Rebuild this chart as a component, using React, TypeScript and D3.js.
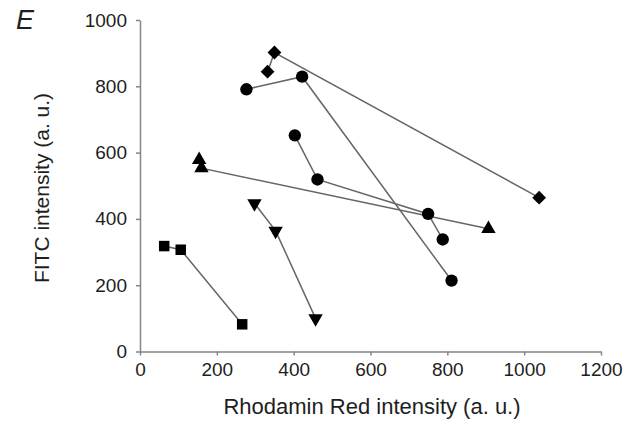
import React, { Component } from "react";
import * as d3 from "d3";

// [Rhodamin Red, FITC] pairs
const diamonds = [[332, 844], [350, 902], [1039, 464]];
const circlesA = [[277, 791], [422, 829], [811, 214]];
const circlesB = [[403, 652], [462, 519], [750, 415], [788, 338]];
const trianglesUp = [[154, 578], [160, 553], [907, 370]];
const trianglesDown = [[298, 447], [353, 364], [457, 100]];
const squares = [[63, 318], [106, 307], [266, 82]];

const xTicks = [0, 200, 400, 600, 800, 1000, 1200];
const yTicks = [0, 200, 400, 600, 800, 1000];

class App extends Component {
  myRef = React.createRef<HTMLDivElement>();

  componentDidMount() {
    document.body.style.margin = "0";
    this.drawChart();
  }

  drawChart() {
    const canvas = d3.select(this.myRef.current);
    canvas.selectAll("*").remove();
    const width = 631;
    const height = 429;
    const font = "Liberation Sans, Arial, Helvetica, sans-serif";

    const svg = canvas.append("svg")
      .attr("width", width)
      .attr("height", height)
      .style("display", "block")
      .style("background", "#fff");

    const x = d3.scaleLinear().domain([0, 1200]).range([140, 601]);
    const y = d3.scaleLinear().domain([0, 1000]).range([351.5, 20]);

    const xAxis = svg.append("g")
      .attr("transform", `translate(0,${y(0)})`)
      .call(d3.axisBottom(x).tickValues(xTicks).tickSize(4).tickSizeOuter(0).tickFormat(d3.format("d")));
    const yAxis = svg.append("g")
      .attr("transform", `translate(${x(0)},0)`)
      .call(d3.axisLeft(y).tickValues(yTicks).tickSize(4).tickSizeOuter(0).tickFormat(d3.format("d")));

    [xAxis, yAxis].forEach(a => {
      a.select(".domain").attr("stroke", "#858585").attr("stroke-width", 1.5);
      a.selectAll(".tick line").attr("stroke", "#858585").attr("stroke-width", 1.5);
      a.selectAll(".tick text")
        .attr("fill", "#1e1e1e")
        .style("font-family", font)
        .style("font-size", "19px");
    });
    xAxis.selectAll(".tick text").attr("y", 11);
    yAxis.selectAll(".tick text").attr("x", -13);

    const line = d3.line<number[]>().x(d => x(d[0])).y(d => y(d[1]));
    const series = [
      { pts: diamonds, kind: "diamond" },
      { pts: circlesA, kind: "circle" },
      { pts: circlesB, kind: "circle" },
      { pts: trianglesUp, kind: "up" },
      { pts: trianglesDown, kind: "down" },
      { pts: squares, kind: "square" },
    ];

    const g = svg.append("g");
    series.forEach(s => {
      g.append("path")
        .attr("d", line(s.pts))
        .attr("fill", "none")
        .attr("stroke", "#666")
        .attr("stroke-width", 1.5);
    });

    const sym = (kind: string) => {
      if (kind === "circle") return d3.symbol(d3.symbolCircle, 120)();
      if (kind === "square") return d3.symbol(d3.symbolSquare, 110)();
      if (kind === "diamond") return d3.symbol(d3.symbolSquare, 95)();
      return d3.symbol(d3.symbolTriangle, 90)();
    };
    const rot = (kind: string) => (kind === "diamond" ? 45 : kind === "down" ? 180 : 0);

    series.forEach(s => {
      g.selectAll(null)
        .data(s.pts)
        .enter().append("path")
        .attr("d", sym(s.kind))
        .attr("fill", "#000")
        .attr("transform", d => `translate(${x(d[0])},${y(d[1])}) rotate(${rot(s.kind)})`);
    });

    svg.append("text")
      .attr("transform", `translate(49,188) rotate(-90)`)
      .attr("text-anchor", "middle")
      .style("font-family", font)
      .style("font-size", "21px")
      .attr("fill", "#1e1e1e")
      .text("FITC intensity (a. u.)");

    svg.append("text")
      .attr("x", 372)
      .attr("y", 414)
      .attr("text-anchor", "middle")
      .style("font-family", font)
      .style("font-size", "22px")
      .attr("fill", "#1e1e1e")
      .text("Rhodamin Red intensity (a. u.)");

    svg.append("text")
      .attr("x", 16)
      .attr("y", 29)
      .style("font-family", font)
      .style("font-size", "27px")
      .style("font-style", "italic")
      .attr("fill", "#1e1e1e")
      .text("E");
  }

  render() {
    return <div ref={this.myRef}></div>;
  }
}

export default App;
